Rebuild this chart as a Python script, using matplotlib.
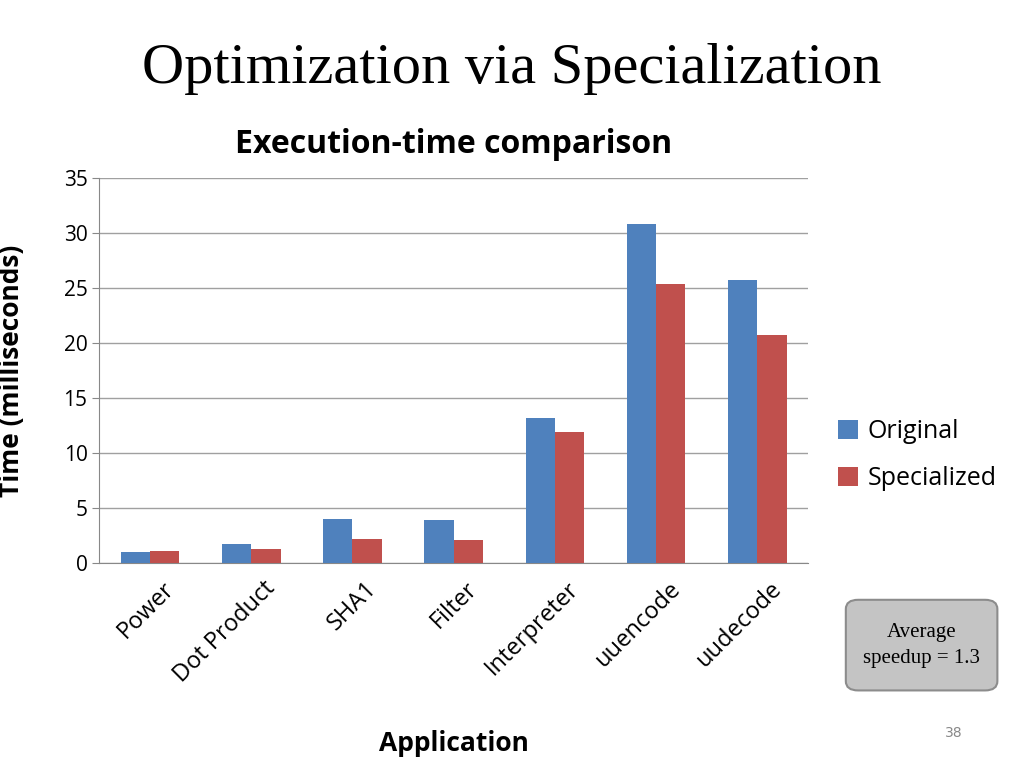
import matplotlib
matplotlib.use("Agg")
import matplotlib.pyplot as plt
import numpy as np
from matplotlib.patches import FancyBboxPatch
import matplotlib.transforms as mtrans

categories = ["Power", "Dot Product", "SHA1", "Filter", "Interpreter", "uuencode", "uudecode"]
original = [1.0, 1.7, 4.0, 3.9, 13.2, 30.8, 25.7]
specialized = [1.1, 1.3, 2.2, 2.1, 11.9, 25.4, 20.7]
yticks = [0, 5, 10, 15, 20, 25, 30, 35]

sans = "Open Sans"
fig = plt.figure(figsize=(10.24, 7.68), dpi=100)
ax = fig.add_axes([0.097, 0.267, 0.692, 0.501])
x = np.arange(len(categories))
w = 0.29
ax.bar(x - w/2, original, w, color="#4F81BD", label="Original", zorder=3)
ax.bar(x + w/2, specialized, w, color="#C0504D", label="Specialized", zorder=3)
ax.set_xlim(-0.5, len(categories) - 0.5)
ax.set_ylim(0, 35)
ax.set_yticks(yticks)
ax.set_yticklabels([str(t) for t in yticks], fontsize=15, fontfamily=sans)
ax.yaxis.grid(True, color="#A0A0A0", linewidth=1, zorder=0)
for s in ["top", "right"]:
    ax.spines[s].set_visible(False)
ax.spines["left"].set_color("#888888")
ax.spines["bottom"].set_color("#888888")
ax.tick_params(axis="y", length=5, color="#888888")
ax.tick_params(axis="x", length=0, pad=10)
ax.set_xticks(x)
ax.set_xticklabels(categories, rotation=45, ha="right", rotation_mode="anchor",
                   fontsize=17, fontfamily=sans)
offset = mtrans.ScaledTranslation(0.12, 0, fig.dpi_scale_trans)
for lab in ax.get_xticklabels():
    lab.set_transform(lab.get_transform() + offset)
ax.set_ylabel("Time (milliseconds)", fontsize=19, fontweight="bold", fontfamily=sans, labelpad=2)
ax.yaxis.set_label_coords(-0.105, 0.5)
ax.set_xlabel("Application", fontsize=19, fontweight="bold", fontfamily=sans)
ax.xaxis.set_label_coords(0.5, -0.435)
ax.set_title("Execution-time comparison", fontsize=23, fontweight="bold", fontfamily=sans, pad=18)
ax.legend(loc="center left", bbox_to_anchor=(1.01, 0.28), frameon=False,
          prop={"family": sans, "size": 18}, handlelength=0.8, handleheight=0.8,
          labelspacing=0.9, handletextpad=0.4)

fig.text(0.50, 0.91, "Optimization via Specialization", ha="center", va="center",
         fontsize=42, fontfamily="Liberation Serif")
box = FancyBboxPatch((0.826, 0.101), 0.148, 0.118, boxstyle="round,pad=0,rounding_size=0.012",
                     transform=fig.transFigure, facecolor="#C4C4C4", edgecolor="#8C8C8C",
                     linewidth=1.5)
fig.patches.append(box)
fig.text(0.900, 0.16, "Average\nspeedup = 1.3", ha="center", va="center",
         fontsize=15, fontfamily="Liberation Serif", linespacing=1.5)
fig.text(0.931, 0.045, "38", ha="center", va="center", fontsize=10, color="#888888")
fig.savefig("out.png", dpi=100)
